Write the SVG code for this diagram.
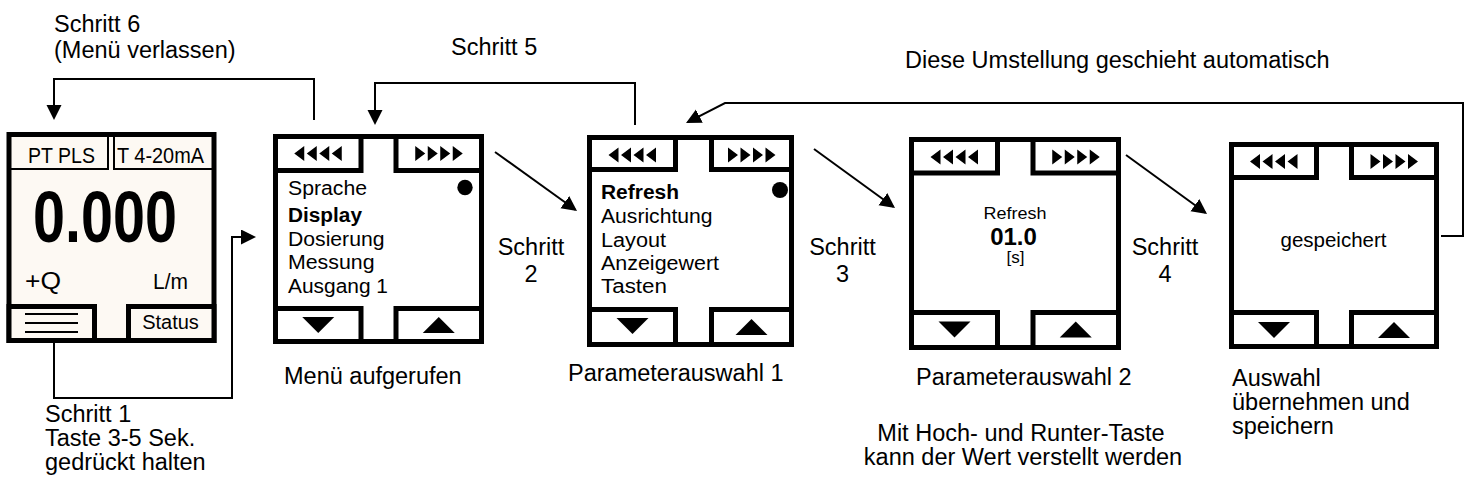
<svg xmlns="http://www.w3.org/2000/svg" width="1468" height="494" viewBox="0 0 1468 494">
<style>
text{font-family:"Liberation Sans",Arial,sans-serif;fill:#000}
.lbl{font-size:23.5px}
.mid{text-anchor:middle}
.b{font-weight:bold}
.scr{font-size:19.5px}
.frame{fill:#fff;stroke:#000;stroke-width:5}
.cream{fill:#fdf9f3;stroke:#000;stroke-width:5}
.thin{fill:none;stroke:#000;stroke-width:2}
.conn{fill:none;stroke:#000;stroke-width:2}
.glyph{fill:#000}
</style>
<defs>
<marker id="ah" markerUnits="userSpaceOnUse" markerWidth="16" markerHeight="16" refX="13" refY="7.5" orient="auto"><path d="M0,0 L15,7.5 L0,15 Z" fill="#000"/></marker>
<path id="left4" d="M-24,0 L-14,-7.5 L-14,7.5 Z M-11.5,0 L-1.5,-7.5 L-1.5,7.5 Z M1,0 L11,-7.5 L11,7.5 Z M13.5,0 L23.5,-7.5 L23.5,7.5 Z"/>
<path id="right4" d="M24,0 L14,-7.5 L14,7.5 Z M11.5,0 L1.5,-7.5 L1.5,7.5 Z M-1,0 L-11,-7.5 L-11,7.5 Z M-13.5,0 L-23.5,-7.5 L-23.5,7.5 Z"/>
<path id="down" d="M-16,-8 L16,-8 L0,8 Z"/>
<path id="up" d="M-16,8 L16,8 L0,-8 Z"/>
</defs>
<rect width="1468" height="494" fill="#fff"/>

<g id="connectors">
<path class="conn" d="M314,120 V79 H54 V118" marker-end="url(#ah)"/>
<path class="conn" d="M635,125 V83 H375 V123" marker-end="url(#ah)"/>
<path class="conn" d="M54,343 V398 H232 V237 H254" marker-end="url(#ah)"/>
<path class="conn" d="M495,152 L575.4,209.8" marker-end="url(#ah)"/>
<path class="conn" d="M814,149 L893.4,206.8" marker-end="url(#ah)"/>
<path class="conn" d="M1126,155 L1205.4,212.8" marker-end="url(#ah)"/>
<path class="conn" d="M1441,236 H1463 V103 H725 L687.8,122.1" marker-end="url(#ah)"/>
</g>

<g id="labels">
<text class="lbl" x="54" y="32">Schritt 6</text>
<text class="lbl" x="54" y="58">(Menü verlassen)</text>
<text class="lbl" x="451" y="55">Schritt 5</text>
<text class="lbl" x="905" y="68">Diese Umstellung geschieht automatisch</text>
<text class="lbl mid" x="531" y="255">Schritt</text>
<text class="lbl mid" x="531" y="282">2</text>
<text class="lbl mid" x="842.5" y="255">Schritt</text>
<text class="lbl mid" x="842.5" y="282">3</text>
<text class="lbl mid" x="1165" y="255">Schritt</text>
<text class="lbl mid" x="1165" y="282">4</text>
<text class="lbl" x="45" y="422">Schritt 1</text>
<text class="lbl" x="45" y="446">Taste 3-5 Sek.</text>
<text class="lbl" x="45" y="470">gedrückt halten</text>
<text class="lbl" x="284" y="384">Menü aufgerufen</text>
<text class="lbl" x="568" y="381">Parameterauswahl 1</text>
<text class="lbl" x="916" y="385">Parameterauswahl 2</text>
<text class="lbl mid" x="1021" y="441">Mit Hoch- und Runter-Taste</text>
<text class="lbl mid" x="1023" y="465">kann der Wert verstellt werden</text>
<text class="lbl" x="1232" y="386">Auswahl</text>
<text class="lbl" x="1232" y="410">übernehmen und</text>
<text class="lbl" x="1232" y="434">speichern</text>
</g>

<g id="status-display">
<rect class="cream" x="9" y="134.5" width="205" height="206"/>
<path class="thin" d="M108,136 V169 H11 M114,136 V169 H212"/>
<text x="61.5" y="163" font-size="22" class="mid" textLength="67" lengthAdjust="spacingAndGlyphs">PT PLS</text>
<text x="160.5" y="163" font-size="22" class="mid" textLength="87" lengthAdjust="spacingAndGlyphs">T 4-20mA</text>
<text x="105" y="242" font-size="72" class="mid b" textLength="144" lengthAdjust="spacingAndGlyphs">0.000</text>
<text x="25" y="289" font-size="23" textLength="36" lengthAdjust="spacingAndGlyphs">+Q</text>
<text x="153" y="289" font-size="22" textLength="35" lengthAdjust="spacingAndGlyphs">L/m</text>
<rect class="cream" x="9" y="306.5" width="85.5" height="34"/>
<rect class="cream" x="128.5" y="306.5" width="85.5" height="34"/>
<path class="thin" d="M25,314 H78 M25,323 H78 M25,332 H78"/>
<text x="170.5" y="329" font-size="20" class="mid">Status</text>
</g>

<g id="menu">
<rect class="frame" x="275.5" y="136.5" width="206" height="205"/>
<rect class="frame" x="275.5" y="136.5" width="85.5" height="34"/>
<rect class="frame" x="396" y="136.5" width="85.5" height="34"/>
<rect class="frame" x="275.5" y="308.5" width="85.5" height="33"/>
<rect class="frame" x="396" y="308.5" width="85.5" height="33"/>
<use href="#left4" class="glyph" x="318.25" y="153.5"/>
<use href="#right4" class="glyph" x="438.75" y="153.5"/>
<use href="#down" class="glyph" x="318.25" y="325"/>
<use href="#up" class="glyph" x="438.75" y="325"/>
<text class="scr" x="288" y="195" textLength="79" lengthAdjust="spacingAndGlyphs">Sprache</text>
<text class="scr b" x="288" y="222" textLength="74" lengthAdjust="spacingAndGlyphs">Display</text>
<text class="scr" x="288" y="246" textLength="96.5" lengthAdjust="spacingAndGlyphs">Dosierung</text>
<text class="scr" x="288" y="269" textLength="86.5" lengthAdjust="spacingAndGlyphs">Messung</text>
<text class="scr" x="288" y="293" textLength="100" lengthAdjust="spacingAndGlyphs">Ausgang 1</text>
<circle cx="465" cy="187.5" r="7.7"/>
</g>

<g id="param1">
<rect class="frame" x="589.5" y="137.5" width="202" height="207"/>
<rect class="frame" x="589.5" y="137.5" width="86" height="32"/>
<rect class="frame" x="711.5" y="137.5" width="80" height="32"/>
<rect class="frame" x="589.5" y="309.5" width="86" height="35"/>
<rect class="frame" x="711.5" y="309.5" width="80" height="35"/>
<use href="#left4" class="glyph" x="632.5" y="155"/>
<use href="#right4" class="glyph" x="751.5" y="155"/>
<use href="#down" class="glyph" x="632.5" y="326"/>
<use href="#up" class="glyph" x="751.5" y="327"/>
<text class="scr b" x="601" y="199" textLength="78" lengthAdjust="spacingAndGlyphs">Refresh</text>
<text class="scr" x="601" y="223" textLength="111.5" lengthAdjust="spacingAndGlyphs">Ausrichtung</text>
<text class="scr" x="601" y="247" textLength="65" lengthAdjust="spacingAndGlyphs">Layout</text>
<text class="scr" x="601" y="270" textLength="118" lengthAdjust="spacingAndGlyphs">Anzeigewert</text>
<text class="scr" x="601" y="293" textLength="66" lengthAdjust="spacingAndGlyphs">Tasten</text>
<circle cx="780" cy="190" r="8"/>
</g>

<g id="param2">
<rect class="frame" x="911.5" y="139.5" width="207" height="208"/>
<rect class="frame" x="911.5" y="139.5" width="86" height="33.5"/>
<rect class="frame" x="1033" y="139.5" width="85.5" height="33.5"/>
<rect class="frame" x="911.5" y="312.5" width="86" height="35"/>
<rect class="frame" x="1033" y="312.5" width="85.5" height="35"/>
<use href="#left4" class="glyph" x="954.5" y="157"/>
<use href="#right4" class="glyph" x="1075.75" y="157"/>
<use href="#down" class="glyph" x="954.5" y="329.5"/>
<use href="#up" class="glyph" x="1075.75" y="329.5"/>
<text class="mid" x="1015" y="219" font-size="16" textLength="63" lengthAdjust="spacingAndGlyphs">Refresh</text>
<text class="mid b" x="1013.5" y="245" font-size="24">01.0</text>
<text class="mid" x="1015.5" y="263" font-size="17">[s]</text>
</g>

<g id="saved">
<rect class="frame" x="1231.5" y="144.5" width="205" height="202"/>
<rect class="frame" x="1231.5" y="144.5" width="85" height="33"/>
<rect class="frame" x="1351.5" y="144.5" width="85" height="33"/>
<rect class="frame" x="1231.5" y="312.5" width="85" height="34"/>
<rect class="frame" x="1351.5" y="312.5" width="85" height="34"/>
<use href="#left4" class="glyph" x="1274" y="161.5"/>
<use href="#right4" class="glyph" x="1394" y="161.5"/>
<use href="#down" class="glyph" x="1274" y="330"/>
<use href="#up" class="glyph" x="1394" y="330"/>
<text class="mid" x="1333.5" y="247" font-size="20.5">gespeichert</text>
</g>
</svg>
